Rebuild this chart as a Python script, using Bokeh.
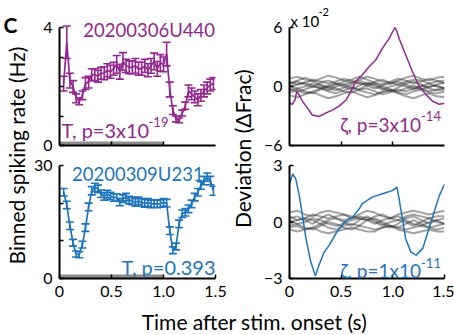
from math import pi

from bokeh.embed import file_html
from bokeh.layouts import column, row
from bokeh.models import ColumnDataSource, FixedTicker, Label, Range1d, TeeHead, Whisker
from bokeh.plotting import figure
from bokeh.resources import INLINE

FONT = "Lato"
PURPLE = "#93278F"
BLUE = "#1C75BC"
NULL_GREY = "#333333"
STIM_GREY = "#8c8c8c"

# ---- binned spiking rates (Hz) -------------------------------------------
bin_t = [0.04, 0.07, 0.10, 0.13, 0.16, 0.19, 0.22, 0.25, 0.28, 0.31,
         0.34, 0.37, 0.40, 0.43, 0.46, 0.49, 0.52, 0.55, 0.58, 0.61,
         0.64, 0.67, 0.70, 0.73, 0.76, 0.79, 0.82, 0.85, 0.88, 0.91,
         0.94, 0.97, 1.00, 1.03, 1.06, 1.09, 1.12, 1.15, 1.18, 1.21,
         1.24, 1.27, 1.30, 1.33, 1.36, 1.39, 1.42, 1.45, 1.48]

rate_u440 = [2.10, 3.50, 2.20, 2.00, 1.60, 1.50, 1.70, 2.10, 2.15, 2.40,
             2.40, 2.35, 2.45, 2.45, 2.55, 2.50, 2.60, 2.75, 2.50, 2.85,
             2.70, 2.65, 2.65, 2.70, 2.60, 2.60, 2.70, 2.55, 2.70, 2.85,
             2.60, 2.80, 2.75, 3.10, 1.90, 1.20, 0.90, 0.85, 1.10, 1.35,
             1.85, 1.75, 1.65, 1.55, 1.70, 1.85, 1.95, 2.05, 2.10]
sem_u440 = [0.25, 0.55, 0.25, 0.20, 0.15, 0.12, 0.15, 0.20, 0.20, 0.20,
            0.20, 0.20, 0.20, 0.22, 0.22, 0.22, 0.22, 0.30, 0.25, 0.30,
            0.22, 0.22, 0.22, 0.25, 0.22, 0.22, 0.22, 0.22, 0.25, 0.28,
            0.25, 0.28, 0.25, 0.40, 0.25, 0.15, 0.10, 0.08, 0.10, 0.12,
            0.20, 0.20, 0.20, 0.20, 0.20, 0.20, 0.20, 0.20, 0.20]

rate_u231 = [22.9, 19.5, 14.0, 9.5, 6.5, 6.3, 9.0, 13.5, 19.0, 23.3,
             24.2, 23.8, 22.5, 21.8, 22.4, 21.9, 21.5, 21.5, 20.3, 21.2,
             21.6, 20.8, 20.6, 20.2, 20.6, 20.2, 19.9, 20.2, 19.8, 19.9,
             19.8, 19.9, 20.2, 20.0, 12.7, 7.5, 8.5, 14.5, 17.2, 17.6,
             18.5, 19.8, 21.6, 22.9, 24.7, 26.0, 26.9, 26.0, 23.3]
sem_u231 = [1.0, 1.0, 1.0, 0.9, 0.8, 0.8, 0.9, 1.0, 1.0, 1.1,
            1.1, 1.0, 1.0, 1.0, 1.0, 1.0, 1.0, 1.0, 1.0, 1.0,
            1.0, 1.0, 1.0, 1.0, 1.0, 1.0, 1.0, 1.0, 1.0, 1.0,
            1.0, 1.0, 1.0, 1.0, 1.0, 0.9, 0.9, 1.0, 1.0, 1.0,
            1.0, 1.0, 1.0, 1.0, 1.0, 1.1, 1.1, 1.1, 1.2]

stim_on, stim_off = 0.0, 1.0

# ---- cumulative deviation curves (x 10^-2 dFrac) --------------------------
zeta_t_u440 = [0.00, 0.03, 0.055, 0.07, 0.09, 0.125, 0.175, 0.22, 0.285, 0.35,
               0.415, 0.48, 0.545, 0.595, 0.64, 0.705, 0.77, 0.835, 0.90, 0.965,
               1.02, 1.04, 1.06, 1.125, 1.19, 1.255, 1.32, 1.385, 1.45, 1.50]
zeta_u440 = [-1.7, -1.8, -1.3, -0.5, -0.8, -1.5, -2.2, -2.9, -3.05, -2.7,
             -2.4, -2.0, -1.4, -0.5, 0.5, 1.2, 2.0, 2.7, 3.9, 4.9,
             6.0, 5.6, 4.9, 3.2, 1.5, 0.0, -0.8, -1.5, -1.8, -1.7]

zeta_t_u231 = [0.00, 0.03, 0.06, 0.095, 0.125, 0.16, 0.205, 0.25, 0.285, 0.335,
               0.385, 0.45, 0.53, 0.61, 0.675, 0.705, 0.80, 0.90, 1.00, 1.04,
               1.06, 1.095, 1.125, 1.175, 1.225, 1.29, 1.35, 1.40, 1.45, 1.50]
zeta_u231 = [2.0, 2.55, 2.3, 1.4, 0.35, -0.9, -2.1, -2.86, -2.3, -1.6,
             -1.23, -0.6, 0.0, 0.26, 0.7, 0.97, 1.32, 1.5, 1.68, 1.85,
             1.24, 0.09, -0.9, -1.6, -1.76, -1.4, -0.35, 0.53, 1.4, 2.0]

# shuffled-null deviation traces
null_t = [0.0, 0.075, 0.15, 0.225, 0.3, 0.375, 0.45, 0.525, 0.6, 0.675, 0.75,
          0.825, 0.9, 0.975, 1.05, 1.125, 1.2, 1.275, 1.35, 1.425, 1.5]
null_u440 = [
    [0.3, 0.5, 0.2, -0.1, 0.4, 0.6, 0.3, 0.0, -0.3, 0.1, 0.4, 0.2, -0.2, -0.5, -0.1, 0.3, 0.5, 0.2, -0.1, 0.2, 0.4],
    [-0.4, -0.2, -0.5, -0.7, -0.3, 0.0, -0.2, -0.5, -0.6, -0.3, 0.1, 0.3, 0.0, -0.3, -0.5, -0.2, 0.1, -0.2, -0.5, -0.3, -0.1],
    [0.8, 1.0, 0.7, 0.5, 0.8, 1.1, 0.9, 0.6, 0.4, 0.7, 1.0, 0.8, 0.5, 0.3, 0.6, 0.9, 1.1, 0.8, 0.6, 0.9, 1.0],
    [-0.9, -1.1, -0.8, -0.6, -0.9, -1.2, -1.0, -0.7, -0.5, -0.8, -1.1, -0.9, -0.6, -0.4, -0.7, -1.0, -1.2, -0.9, -0.7, -1.0, -1.1],
    [0.1, -0.2, 0.0, 0.3, 0.1, -0.2, -0.4, -0.1, 0.2, 0.4, 0.1, -0.2, 0.1, 0.3, 0.5, 0.2, -0.1, -0.3, 0.0, 0.1, -0.2],
    [0.5, 0.2, 0.4, 0.7, 0.5, 0.3, 0.5, 0.8, 0.6, 0.3, 0.2, 0.5, 0.7, 0.4, 0.2, 0.5, 0.7, 0.6, 0.3, 0.5, 0.6],
    [-0.6, -0.4, -0.7, -0.5, -0.2, -0.5, -0.7, -0.4, -0.1, -0.4, -0.6, -0.8, -0.5, -0.3, -0.6, -0.8, -0.5, -0.3, -0.6, -0.7, -0.5],
    [0.0, 0.2, 0.4, 0.1, -0.2, 0.1, 0.3, 0.2, 0.4, 0.6, 0.3, 0.0, -0.3, 0.0, 0.2, 0.0, -0.3, 0.0, 0.3, 0.0, -0.2],
    [-0.2, -0.5, -0.3, 0.0, -0.1, -0.4, 0.0, 0.2, -0.1, -0.3, -0.2, -0.5, -0.8, -0.6, -0.3, -0.5, -0.2, 0.1, -0.2, -0.4, -0.3],
    [0.3, 0.6, 0.9, 0.6, 0.2, -0.1, 0.2, 0.5, 0.7, 1.0, 0.7, 0.4, 0.2, 0.5, 0.8, 0.6, 0.3, 0.5, 0.8, 0.6, 0.3],
]
null_u231 = [
    [0.2, 0.3, 0.1, -0.1, 0.2, 0.4, 0.2, 0.0, -0.2, 0.1, 0.3, 0.1, -0.1, -0.3, -0.1, 0.2, 0.3, 0.1, -0.1, 0.1, 0.2],
    [-0.2, -0.1, -0.3, -0.4, -0.2, 0.0, -0.1, -0.3, -0.4, -0.2, 0.1, 0.2, 0.0, -0.2, -0.3, -0.1, 0.1, -0.1, -0.3, -0.2, -0.1],
    [0.5, 0.6, 0.4, 0.3, 0.5, 0.6, 0.5, 0.4, 0.2, 0.4, 0.6, 0.5, 0.3, 0.2, 0.4, 0.5, 0.6, 0.5, 0.4, 0.5, 0.6],
    [-0.4, -0.5, -0.4, -0.3, -0.5, -0.6, -0.5, -0.4, -0.3, -0.4, -0.5, -0.5, -0.3, -0.2, -0.4, -0.5, -0.6, -0.5, -0.4, -0.5, -0.5],
    [0.1, -0.1, 0.0, 0.2, 0.1, -0.1, -0.2, -0.1, 0.1, 0.2, 0.1, -0.1, 0.1, 0.2, 0.3, 0.1, -0.1, -0.2, 0.0, 0.1, -0.1],
    [0.3, 0.1, 0.2, 0.4, 0.3, 0.2, 0.3, 0.4, 0.3, 0.2, 0.1, 0.3, 0.4, 0.2, 0.1, 0.3, 0.4, 0.3, 0.2, 0.3, 0.3],
    [-0.3, -0.2, -0.4, -0.3, -0.1, -0.3, -0.4, -0.2, -0.1, -0.2, -0.3, -0.4, -0.3, -0.2, -0.3, -0.4, -0.3, -0.2, -0.3, -0.4, -0.3],
    [0.0, 0.1, 0.2, 0.1, -0.1, 0.1, 0.2, 0.1, 0.2, 0.3, 0.2, 0.0, -0.2, 0.0, 0.1, 0.0, -0.2, 0.0, 0.2, 0.0, -0.1],
]

x_ticks = [0, 0.5, 1.0, 1.5]
x_tick_labels = {0: "0", 0.5: "0.5", 1.0: "1.0", 1.5: "1.5"}


def panel(y_lo, y_hi, y_top, y_ticks, y_minor, frame_w, frame_h,
          b_top, b_bottom, b_left, b_right, show_x):
    # the frame reaches a little above the axis top (y_top) so that the
    # panel titles can sit above the axis without being clipped
    p = figure(frame_width=frame_w, frame_height=frame_h,
               x_range=Range1d(0, 1.5), y_range=Range1d(y_lo, y_top),
               output_backend="svg", toolbar_location=None,
               min_border_top=b_top, min_border_bottom=b_bottom,
               min_border_left=b_left, min_border_right=b_right,
               background_fill_color="white", border_fill_color="white")
    p.outline_line_color = None
    p.grid.visible = False
    for ax in (p.xaxis[0], p.yaxis[0]):
        ax.axis_line_width = 2
        ax.axis_line_color = "black"
        ax.major_tick_in = 4
        ax.major_tick_out = 0
        ax.major_tick_line_width = 1.5
        ax.minor_tick_in = 4
        ax.minor_tick_out = 0
        ax.minor_tick_line_width = 1.5
        ax.minor_tick_line_color = "black"
        ax.major_label_text_font = FONT
        ax.major_label_text_font_size = "16px"
        ax.major_label_text_color = "black"
    if show_x:
        p.xaxis.ticker = FixedTicker(ticks=x_ticks)
        p.xaxis.major_label_overrides = x_tick_labels
        p.xaxis.major_label_standoff = 7
    else:
        p.xaxis.ticker = FixedTicker(ticks=[], minor_ticks=[0.5, 1.0])
        p.xaxis.major_label_standoff = 0
    p.yaxis.ticker = FixedTicker(ticks=y_ticks, minor_ticks=y_minor)
    p.yaxis.bounds = (y_lo, y_hi)
    p.yaxis.major_label_standoff = 7
    return p


def label(p, x, y, text, color, size="20px", align="left"):
    p.add_layout(Label(x=x, y=y, text=text, text_font=FONT, text_font_size=size,
                       text_color=color, text_align=align, text_baseline="alphabetic"))


def rate_panel(p, rate, sem, color):
    # stimulus bar along the time axis
    p.segment(x0=[stim_on], x1=[stim_off], y0=[0], y1=[0], line_width=8, line_color=STIM_GREY)
    src = ColumnDataSource(dict(t=bin_t, r=rate,
                                lo=[r - s for r, s in zip(rate, sem)],
                                hi=[r + s for r, s in zip(rate, sem)]))
    p.line("t", "r", source=src, line_color=color, line_width=1.7)
    p.add_layout(Whisker(source=src, base="t", lower="lo", upper="hi",
                         line_color=color, line_width=1.6,
                         lower_head=TeeHead(size=8, line_color=color, line_width=1.6),
                         upper_head=TeeHead(size=8, line_color=color, line_width=1.6)))


def zeta_panel(p, nulls, t, dev, color):
    for tr in nulls:
        p.line(null_t, tr, line_color=NULL_GREY, line_alpha=0.45, line_width=2)
    p.line(t, dev, line_color=color, line_width=1.5)


# top-left: spiking rate, 20200306U440 (29.5 px per Hz; frame extends 21 px above "4")
tl = panel(0, 4, 4 + 21 / 29.5, [0, 4], [1, 2, 3], 156, 139, 6, 10, 29, 13, False)
rate_panel(tl, rate_u440, sem_u440, PURPLE)
label(tl, 1.495, 3.9, "20200306U440", PURPLE, size="18.5px", align="right")
label(tl, 0.02, 0.51, "T, p=3x10", PURPLE)
label(tl, 0.856, 0.78, "-19", PURPLE, size="13px")

# bottom-left: spiking rate, 20200309U231 (frame extends 10 px above "30")
bl = panel(0, 30, 30 * 123 / 113, [0, 30], [10, 20], 156, 123, 0, 27, 29, 13, True)
rate_panel(bl, rate_u231, sem_u231, BLUE)
label(bl, 0.12, 27.7, "20200309U231", BLUE, size="18.5px")
label(bl, 1.5, 3.0, "T, p=0.393", BLUE, align="right")

# top-right: deviation, 20200306U440 (frame runs to the very top for the exponent)
tr_ = panel(-6, 6, 6 + 27 * 12 / 118, [-6, 0, 6], [], 155, 145, 0, 10, 33, 10, False)
zeta_panel(tr_, null_u440, zeta_t_u440, zeta_u440, PURPLE)
label(tr_, 0.49, -3.85, "\u03b6, p=3x10", PURPLE, size="19px")
label(tr_, 1.273, -3.05, "-14", PURPLE, size="13px")
label(tr_, 0.01, 6.71, "x 10", "black", size="15px")
label(tr_, 0.28, 7.53, "-2", "black", size="11px")

# bottom-right: deviation, 20200309U231
br = panel(-3, 3, 3 + 10 * 6 / 113, [-3, 0, 3], [], 155, 123, 0, 27, 33, 10, True)
zeta_panel(br, null_u231, zeta_t_u231, zeta_u231, BLUE)
label(br, 0.49, -2.6, "\u03b6, p=1x10", BLUE, size="19px")
label(br, 1.273, -2.18, "-11", BLUE, size="13px")


def text_strip(w, h):
    p = figure(width=w, height=h, x_range=Range1d(0, w), y_range=Range1d(0, h),
               output_backend="svg", toolbar_location=None,
               x_axis_location=None, y_axis_location=None, min_border=0)
    p.outline_line_color = None
    p.grid.visible = False
    return p


left_strip = text_strip(30, 305)
left_strip.add_layout(Label(x=3, y=281, text="C", text_font=FONT, text_font_size="21px",
                            text_font_style="bold", text_color="black", text_baseline="alphabetic"))
left_strip.add_layout(Label(x=15.5, y=150, text="Binned spiking rate (Hz)", angle=pi / 2,
                            text_font=FONT, text_font_size="21px", text_color="black",
                            text_align="center", text_baseline="middle"))

mid_strip = text_strip(28, 305)
mid_strip.add_layout(Label(x=14, y=157, text="Deviation (\u0394Frac)", angle=pi / 2,
                           text_font=FONT, text_font_size="21px", text_color="black",
                           text_align="center", text_baseline="middle"))

bottom_strip = text_strip(454, 30)
bottom_strip.add_layout(Label(x=254, y=14, text="Time after stim. onset (s)",
                              text_font=FONT, text_font_size="21px", text_color="black",
                              text_align="center", text_baseline="middle"))

layout = column(row(left_strip, column(tl, bl), mid_strip, column(tr_, br)), bottom_strip)

open("out.html", "w").write(file_html(layout, INLINE))
